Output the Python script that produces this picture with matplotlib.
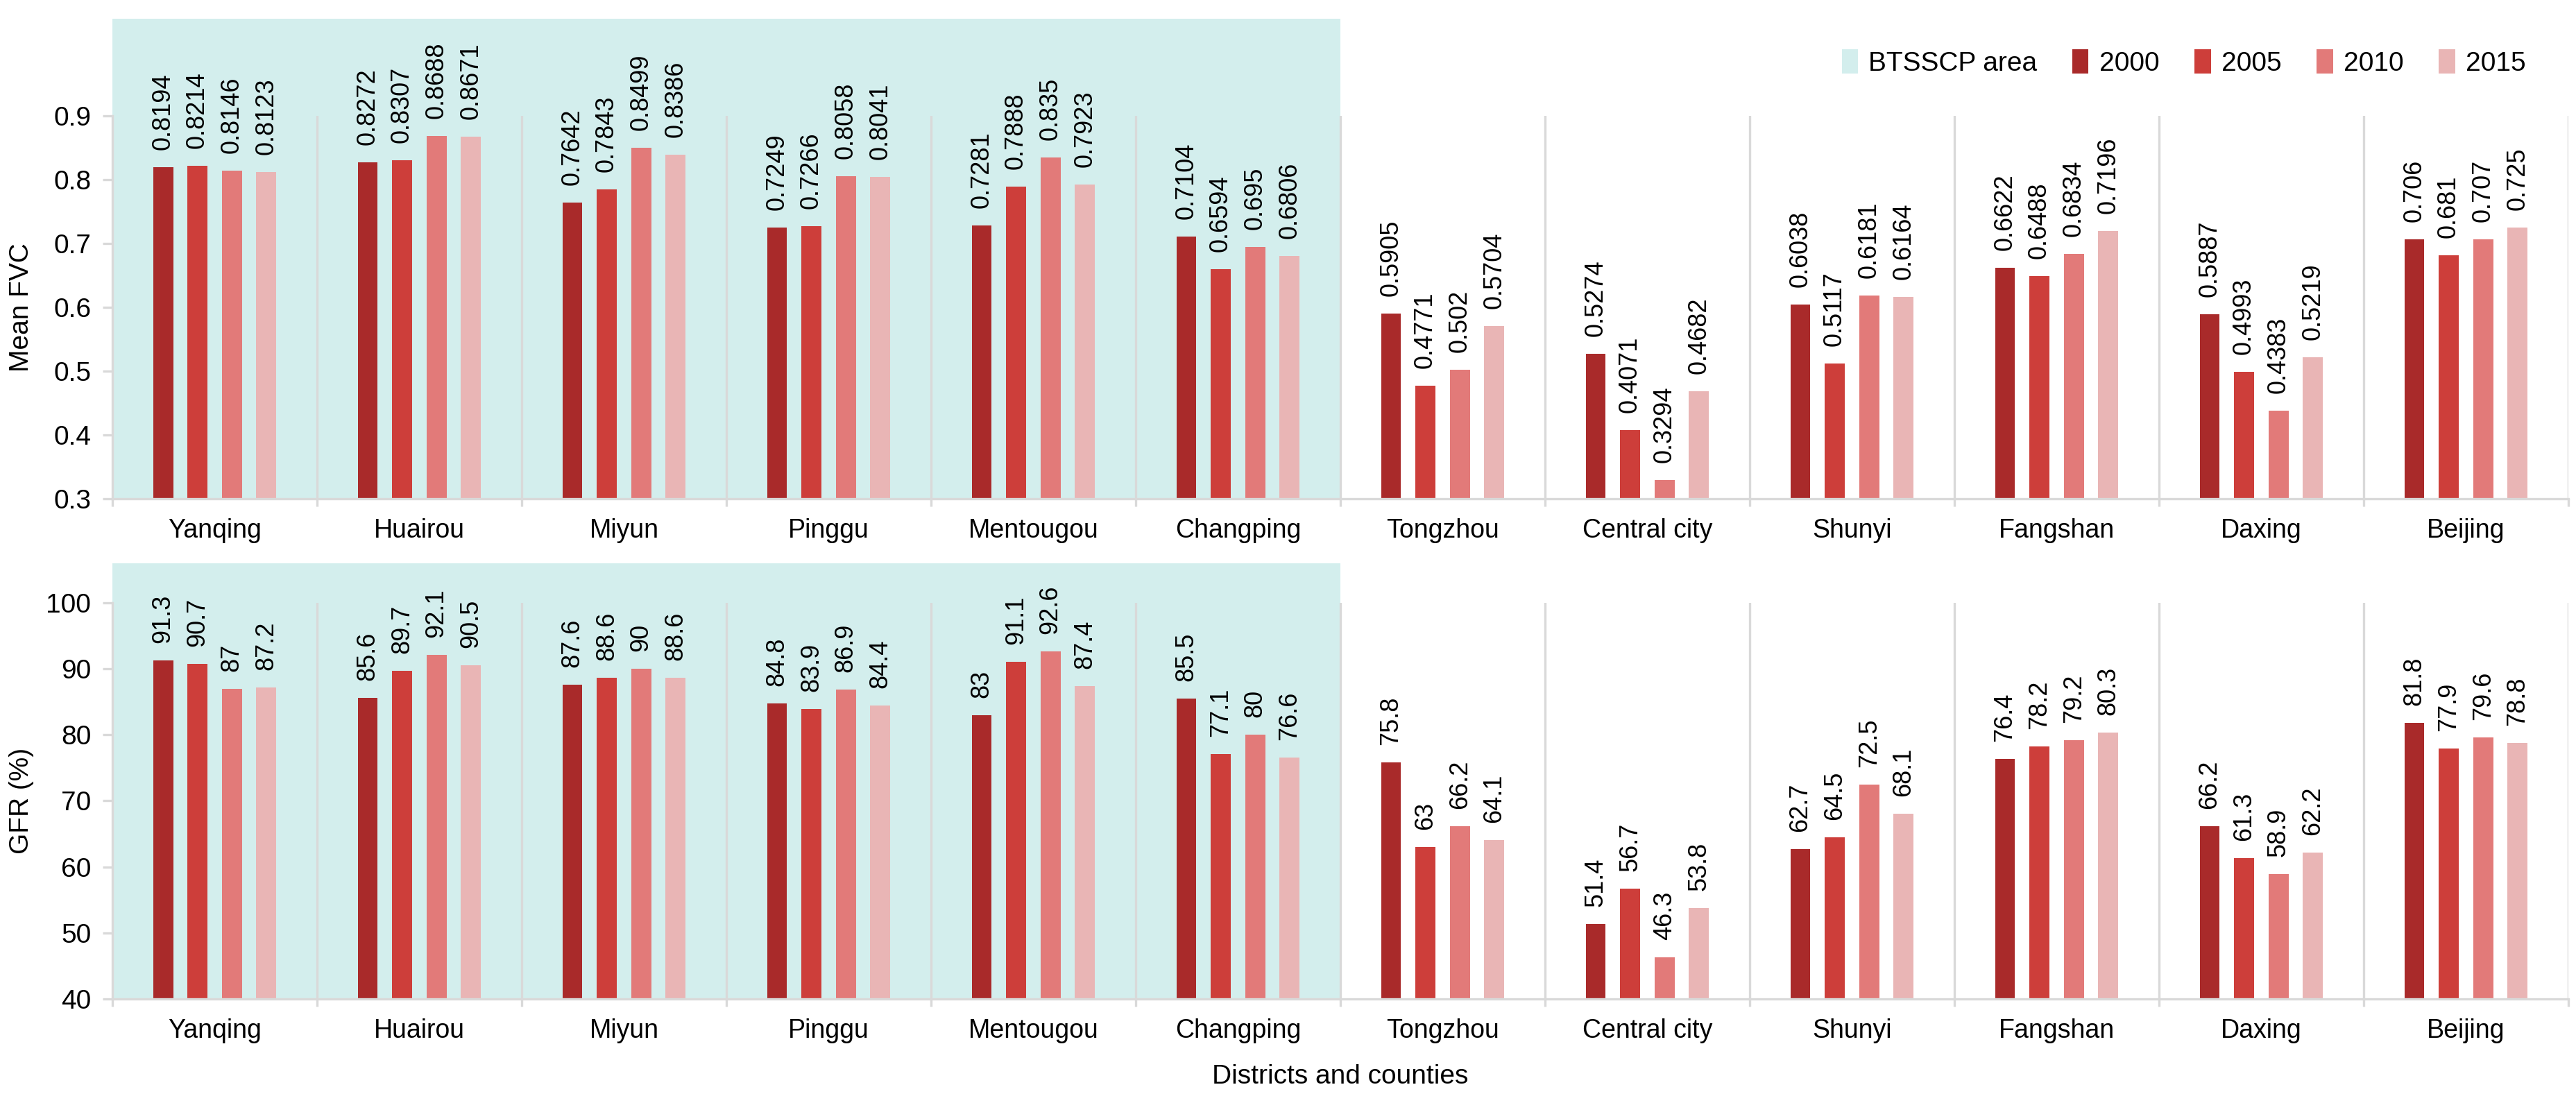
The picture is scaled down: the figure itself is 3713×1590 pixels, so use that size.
import matplotlib
matplotlib.use("Agg")
import matplotlib.pyplot as plt
from matplotlib.patches import Rectangle, Patch

plt.rcParams['font.family'] = ['Liberation Sans', 'DejaVu Sans']

# data
districts = ["Yanqing", "Huairou", "Miyun", "Pinggu", "Mentougou", "Changping",
             "Tongzhou", "Central city", "Shunyi", "Fangshan", "Daxing", "Beijing"]
years = ["2000", "2005", "2010", "2015"]

fvc_2000 = [0.8194, 0.8272, 0.7642, 0.7249, 0.7281, 0.7104, 0.5905, 0.5274, 0.6038, 0.6622, 0.5887, 0.706]
fvc_2005 = [0.8214, 0.8307, 0.7843, 0.7266, 0.7888, 0.6594, 0.4771, 0.4071, 0.5117, 0.6488, 0.4993, 0.681]
fvc_2010 = [0.8146, 0.8688, 0.8499, 0.8058, 0.835, 0.695, 0.502, 0.3294, 0.6181, 0.6834, 0.4383, 0.707]
fvc_2015 = [0.8123, 0.8671, 0.8386, 0.8041, 0.7923, 0.6806, 0.5704, 0.4682, 0.6164, 0.7196, 0.5219, 0.725]

gfr_2000 = [91.3, 85.6, 87.6, 84.8, 83, 85.5, 75.8, 51.4, 62.7, 76.4, 66.2, 81.8]
gfr_2005 = [90.7, 89.7, 88.6, 83.9, 91.1, 77.1, 63, 56.7, 64.5, 78.2, 61.3, 77.9]
gfr_2010 = [87, 92.1, 90, 86.9, 92.6, 80, 66.2, 46.3, 72.5, 79.2, 58.9, 79.6]
gfr_2015 = [87.2, 90.5, 88.6, 84.4, 87.4, 76.6, 64.1, 53.8, 68.1, 80.3, 62.2, 78.8]

n_btsscp = 6  # first six districts lie in the BTSSCP area

colors = ["#a92a2a", "#cd3e3a", "#e27a79", "#e9b5b5"]
cyan = "#d3eeed"
grey = "#d9d9d9"

fig = plt.figure(figsize=(18.565, 7.95), dpi=200)
ax1 = fig.add_axes([0.0436, 0.5478, 0.9534, 0.3472])
ax2 = fig.add_axes([0.0436, 0.0943, 0.9534, 0.3592])


def draw_panel(ax, series, ylo, yhi, yticks, cyan_top, ylabel):
    n = len(districts)
    ax.set_xlim(0, n)
    ax.set_ylim(ylo, yhi)
    # BTSSCP background, reaching above the plot area
    ax.add_patch(Rectangle((0, ylo), n_btsscp, cyan_top - ylo, facecolor=cyan,
                           edgecolor="none", zorder=0, clip_on=False))
    for b in range(1, n + 1):
        ax.axvline(b, color=grey, lw=1.2, zorder=1)
    pitch = 0.168
    bars = []
    for k, vals in enumerate(series):
        xs = [i + 0.5 + (k - 1.5) * pitch for i in range(n)]
        bc = ax.bar(xs, vals, width=0.098, color=colors[k], zorder=2, label=years[k])
        bars.append(bc)
        for x, v in zip(xs, vals):
            ax.annotate("{:g}".format(v), (x, v), xytext=(0, 9), textcoords="offset points",
                        rotation=90, ha="center", va="bottom", fontsize=13,
                        annotation_clip=False, zorder=3)
    for s in ["top", "right"]:
        ax.spines[s].set_visible(False)
    for s in ["left", "bottom"]:
        ax.spines[s].set_color(grey)
        ax.spines[s].set_linewidth(1.2)
    ax.set_yticks(yticks)
    ax.tick_params(axis="y", direction="out", length=5, width=1.2, color=grey,
                   labelsize=14, pad=6)
    ax.set_xticks(range(n + 1))
    ax.set_xticklabels([])
    ax.set_xticks([i + 0.5 for i in range(n)], minor=True)
    ax.set_xticklabels(districts, minor=True, fontsize=13.5)
    ax.tick_params(axis="x", which="major", direction="out", length=4, width=1.2, color=grey)
    ax.tick_params(axis="x", which="minor", length=0, pad=10)
    ax.set_ylabel(ylabel, fontsize=14)
    ax.yaxis.set_label_coords(-0.032, 0.5)
    return bars


bars = draw_panel(ax1, [fvc_2000, fvc_2005, fvc_2010, fvc_2015], 0.3, 0.9,
                  [0.3, 0.4, 0.5, 0.6, 0.7, 0.8, 0.9], 1.052, "Mean FVC")
ax1.set_yticklabels(["0.3", "0.4", "0.5", "0.6", "0.7", "0.8", "0.9"])
draw_panel(ax2, [gfr_2000, gfr_2005, gfr_2010, gfr_2015], 40, 100,
           [40, 50, 60, 70, 80, 90, 100], 106, "GFR (%)")
ax2.set_xlabel("Districts and counties", fontsize=14, labelpad=11)

handles = [Patch(facecolor=cyan, edgecolor="none")] + list(bars)
labels = ["BTSSCP area"] + years
fig.legend(handles, labels, loc="center right", bbox_to_anchor=(0.99, 0.943), ncol=5,
           frameon=False, fontsize=14, handlelength=0.6, handleheight=1.0,
           handletextpad=0.4, columnspacing=1.3)

fig.savefig("out.png", dpi=200)
